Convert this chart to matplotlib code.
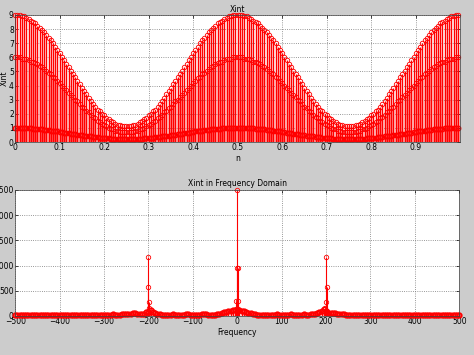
import numpy as np
import matplotlib
matplotlib.use('Agg')
import matplotlib.pyplot as plt

# time axis, 200 samples over one second
n = np.arange(0, 1, 0.005)

# three signal components (one row = 10 samples)
xint_high = [
    9.0, 9.0, 9.0, 8.9, 8.9, 8.8, 8.7, 8.6, 8.5, 8.4,
    8.2, 8.1, 7.9, 7.8, 7.6, 7.4, 7.2, 7.0, 6.7, 6.5,
    6.3, 6.0, 5.8, 5.5, 5.3, 5.0, 4.8, 4.6, 4.3, 4.1,
    3.8, 3.6, 3.4, 3.1, 2.9, 2.7, 2.5, 2.3, 2.2, 2.0,
    1.9, 1.7, 1.6, 1.5, 1.4, 1.3, 1.2, 1.2, 1.1, 1.1,
    1.1, 1.1, 1.1, 1.2, 1.2, 1.3, 1.4, 1.5, 1.6, 1.7,
    1.9, 2.0, 2.2, 2.3, 2.5, 2.7, 2.9, 3.1, 3.4, 3.6,
    3.8, 4.1, 4.3, 4.6, 4.8, 5.0, 5.3, 5.5, 5.8, 6.0,
    6.3, 6.5, 6.7, 7.0, 7.2, 7.4, 7.6, 7.8, 7.9, 8.1,
    8.2, 8.4, 8.5, 8.6, 8.7, 8.8, 8.9, 8.9, 9.0, 9.0,
    9.0, 9.0, 9.0, 8.9, 8.9, 8.8, 8.7, 8.6, 8.5, 8.4,
    8.2, 8.1, 7.9, 7.8, 7.6, 7.4, 7.2, 7.0, 6.7, 6.5,
    6.3, 6.0, 5.8, 5.5, 5.3, 5.0, 4.8, 4.6, 4.3, 4.1,
    3.8, 3.6, 3.4, 3.1, 2.9, 2.7, 2.5, 2.3, 2.2, 2.0,
    1.9, 1.7, 1.6, 1.5, 1.4, 1.3, 1.2, 1.2, 1.1, 1.1,
    1.1, 1.1, 1.1, 1.2, 1.2, 1.3, 1.4, 1.5, 1.6, 1.7,
    1.9, 2.0, 2.2, 2.3, 2.5, 2.7, 2.9, 3.1, 3.4, 3.6,
    3.8, 4.1, 4.3, 4.6, 4.8, 5.0, 5.3, 5.5, 5.8, 6.0,
    6.3, 6.5, 6.7, 7.0, 7.2, 7.4, 7.6, 7.8, 7.9, 8.1,
    8.2, 8.4, 8.5, 8.6, 8.7, 8.8, 8.9, 8.9, 9.0, 9.0,
]

xint_mid = [
    6.0, 6.0, 6.0, 5.9, 5.9, 5.9, 5.8, 5.7, 5.7, 5.6,
    5.5, 5.4, 5.3, 5.2, 5.0, 4.9, 4.8, 4.6, 4.5, 4.3,
    4.2, 4.0, 3.8, 3.7, 3.5, 3.35, 3.2, 3.0, 2.9, 2.7,
    2.5, 2.4, 2.2, 2.1, 1.9, 1.8, 1.7, 1.5, 1.4, 1.3,
    1.2, 1.1, 1.0, 0.9, 0.9, 0.8, 0.8, 0.7, 0.7, 0.7,
    0.7, 0.7, 0.7, 0.7, 0.8, 0.8, 0.9, 0.9, 1.0, 1.1,
    1.2, 1.3, 1.4, 1.5, 1.7, 1.8, 1.9, 2.1, 2.2, 2.4,
    2.5, 2.7, 2.9, 3.0, 3.2, 3.35, 3.5, 3.7, 3.8, 4.0,
    4.2, 4.3, 4.5, 4.6, 4.8, 4.9, 5.0, 5.2, 5.3, 5.4,
    5.5, 5.6, 5.7, 5.7, 5.8, 5.9, 5.9, 5.9, 6.0, 6.0,
    6.0, 6.0, 6.0, 5.9, 5.9, 5.9, 5.8, 5.7, 5.7, 5.6,
    5.5, 5.4, 5.3, 5.2, 5.0, 4.9, 4.8, 4.6, 4.5, 4.3,
    4.2, 4.0, 3.8, 3.7, 3.5, 3.35, 3.2, 3.0, 2.9, 2.7,
    2.5, 2.4, 2.2, 2.1, 1.9, 1.8, 1.7, 1.5, 1.4, 1.3,
    1.2, 1.1, 1.0, 0.9, 0.9, 0.8, 0.8, 0.7, 0.7, 0.7,
    0.7, 0.7, 0.7, 0.7, 0.8, 0.8, 0.9, 0.9, 1.0, 1.1,
    1.2, 1.3, 1.4, 1.5, 1.7, 1.8, 1.9, 2.1, 2.2, 2.4,
    2.5, 2.7, 2.9, 3.0, 3.2, 3.35, 3.5, 3.7, 3.8, 4.0,
    4.2, 4.3, 4.5, 4.6, 4.8, 4.9, 5.0, 5.2, 5.3, 5.4,
    5.5, 5.6, 5.7, 5.7, 5.8, 5.9, 5.9, 5.9, 6.0, 6.0,
]

xint_low = [
    1.0, 1.0, 1.0, 0.99, 0.99, 0.98, 0.97, 0.96, 0.95, 0.94,
    0.92, 0.91, 0.89, 0.87, 0.85, 0.84, 0.81, 0.79, 0.77, 0.75,
    0.72, 0.70, 0.67, 0.65, 0.63, 0.60, 0.57, 0.55, 0.53, 0.50,
    0.48, 0.45, 0.43, 0.41, 0.39, 0.36, 0.35, 0.33, 0.31, 0.29,
    0.28, 0.26, 0.25, 0.24, 0.23, 0.22, 0.21, 0.21, 0.20, 0.20,
    0.20, 0.20, 0.20, 0.21, 0.21, 0.22, 0.23, 0.24, 0.25, 0.26,
    0.28, 0.29, 0.31, 0.33, 0.35, 0.36, 0.39, 0.41, 0.43, 0.45,
    0.48, 0.50, 0.53, 0.55, 0.57, 0.60, 0.63, 0.65, 0.67, 0.70,
    0.72, 0.75, 0.77, 0.79, 0.81, 0.84, 0.85, 0.87, 0.89, 0.91,
    0.92, 0.94, 0.95, 0.96, 0.97, 0.98, 0.99, 0.99, 1.0, 1.0,
    1.0, 1.0, 1.0, 0.99, 0.99, 0.98, 0.97, 0.96, 0.95, 0.94,
    0.92, 0.91, 0.89, 0.87, 0.85, 0.84, 0.81, 0.79, 0.77, 0.75,
    0.72, 0.70, 0.67, 0.65, 0.63, 0.60, 0.57, 0.55, 0.53, 0.50,
    0.48, 0.45, 0.43, 0.41, 0.39, 0.36, 0.35, 0.33, 0.31, 0.29,
    0.28, 0.26, 0.25, 0.24, 0.23, 0.22, 0.21, 0.21, 0.20, 0.20,
    0.20, 0.20, 0.20, 0.21, 0.21, 0.22, 0.23, 0.24, 0.25, 0.26,
    0.28, 0.29, 0.31, 0.33, 0.35, 0.36, 0.39, 0.41, 0.43, 0.45,
    0.48, 0.50, 0.53, 0.55, 0.57, 0.60, 0.63, 0.65, 0.67, 0.70,
    0.72, 0.75, 0.77, 0.79, 0.81, 0.84, 0.85, 0.87, 0.89, 0.91,
    0.92, 0.94, 0.95, 0.96, 0.97, 0.98, 0.99, 0.99, 1.0, 1.0,
]

# spectrum: noise floor every 5 Hz from -500 to 500
freq = np.arange(-500, 501, 5)
floor_mag = [
    12, 18, 22, 15, 10, 17, 24, 19, 13, 16,
    21, 25, 18, 12, 15, 20, 23, 17, 14, 19,
    24, 20, 15, 11, 16, 22, 26, 21, 17, 14,
    18, 23, 27, 22, 16, 13, 18, 24, 28, 23,
    19, 15, 20, 26, 30, 27, 22, 25, 31, 34,
    38, 42, 47, 50, 52, 48, 43, 40, 45, 70,
    60, 110, 75, 50, 38, 30, 26, 22, 20, 24,
    27, 30, 26, 22, 19, 23, 28, 32, 29, 25,
    21, 18, 22, 27, 31, 35, 33, 28, 24, 22,
    25, 35, 48, 60, 72, 84, 95, 104, 112, 125,
    140, 122, 108, 95, 82, 68, 52, 40, 30, 24,
    20, 23, 27, 25, 21, 18, 22, 26, 29, 24,
    20, 17, 21, 26, 30, 27, 23, 19, 22, 27,
    31, 28, 24, 30, 38, 46, 58, 80, 105, 140,
    90, 65, 58, 55, 52, 48, 44, 40, 35, 28,
    24, 20, 18, 22, 26, 23, 19, 16, 20, 24,
    27, 22, 18, 15, 19, 24, 21, 17, 14, 18,
    22, 25, 20, 16, 13, 17, 21, 24, 19, 15,
    12, 16, 20, 23, 18, 14, 11, 15, 19, 22,
    18, 14, 12, 16, 20, 17, 13, 10, 14, 18,
    12,
]

# the main spectral lines
peak_freq = [-202, -201, -200, -199, -198, -2, -1, 0, 1, 2, 198, 199, 200, 201, 202]
peak_mag = [100, 580, 1170, 280, 150, 300, 950, 2500, 950, 300, 150, 280, 1170, 580, 100]

red = '#ff0000'
fs = 5.5


def red_stem(ax, x, y, lw=0.5, mew=0.6):
    markers, stems, base = ax.stem(x, y, basefmt=' ')
    stems.set_color(red)
    stems.set_linewidth(lw)
    markers.set_color(red)
    markers.set_markerfacecolor('none')
    markers.set_markersize(3.2)
    markers.set_markeredgewidth(mew)
    markers.set_clip_on(False)


def matlab_axes(ax):
    ax.set_facecolor('white')
    ax.grid(True, linestyle=':', color='#777777', linewidth=0.6)
    ax.set_axisbelow(True)
    ax.tick_params(direction='in', length=2, width=0.5, labelsize=fs,
                   top=True, right=True, pad=1)
    for sp in ax.spines.values():
        sp.set_linewidth(0.5)
        sp.set_color('#404040')


fig = plt.figure(figsize=(4.74, 3.55), dpi=100, facecolor='#cccccc')

ax1 = fig.add_axes([0.032, 0.60, 0.939, 0.358])
matlab_axes(ax1)
red_stem(ax1, n, xint_high, lw=1.0)
red_stem(ax1, n, xint_mid, lw=1.0)
red_stem(ax1, n, xint_low, lw=1.0, mew=1.0)
ax1.set_xlim(0, 1)
ax1.set_ylim(0, 9)
ax1.set_xticks(np.arange(0, 1, 0.1))
ax1.set_xticklabels(['0', '0.1', '0.2', '0.3', '0.4', '0.5', '0.6', '0.7', '0.8', '0.9'])
ax1.set_yticks(range(0, 10))
ax1.set_title('Xint', fontsize=fs, pad=2)
ax1.set_xlabel('n', fontsize=fs, labelpad=1)
ax1.set_ylabel('Xint', fontsize=fs, labelpad=0)

ax2 = fig.add_axes([0.032, 0.11, 0.937, 0.355])
matlab_axes(ax2)
red_stem(ax2, freq, floor_mag, lw=1.0, mew=1.3)
red_stem(ax2, peak_freq, peak_mag, lw=0.8)
ax2.set_xlim(-500, 500)
ax2.set_ylim(0, 2500)
ax2.set_xticks(range(-500, 501, 100))
ax2.set_yticks(range(0, 2501, 500))
ax2.set_title('Xint in Frequency Domain', fontsize=fs, pad=3)
ax2.set_xlabel('Frequency', fontsize=fs, labelpad=1)

fig.savefig('out.png', dpi=100, facecolor=fig.get_facecolor())
